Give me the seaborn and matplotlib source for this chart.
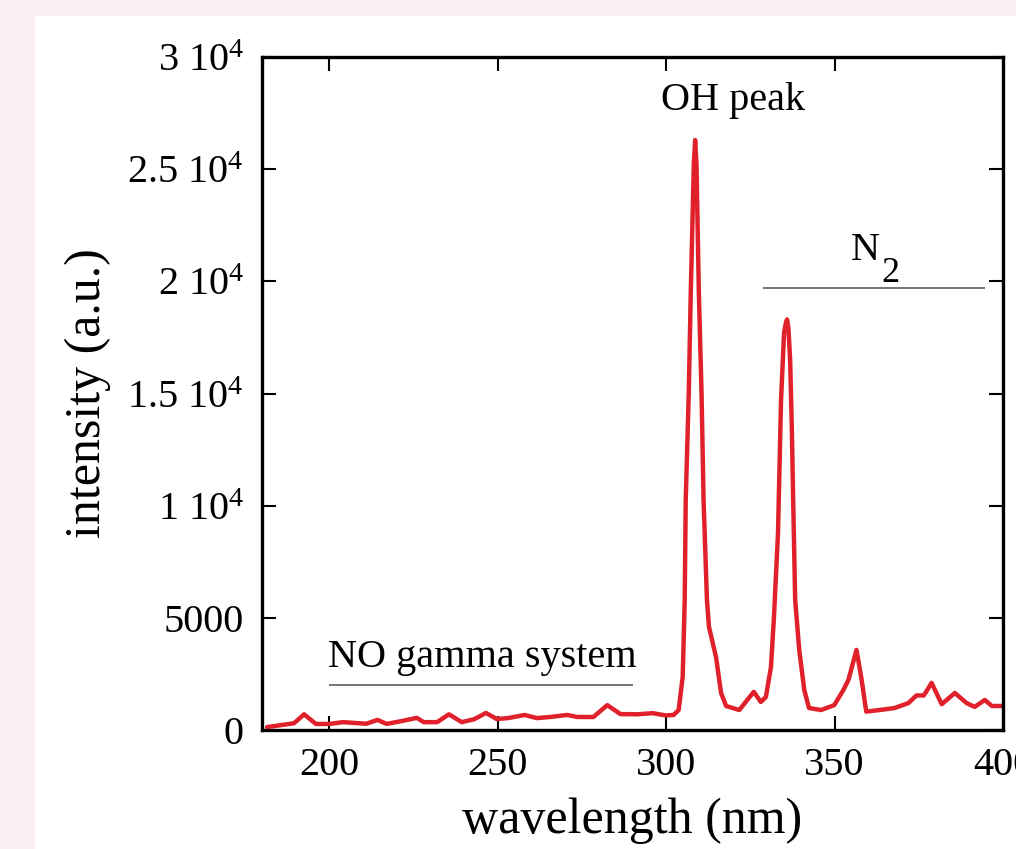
import matplotlib
matplotlib.use("Agg")
import matplotlib.pyplot as plt
from matplotlib.patches import Rectangle
import seaborn as sns
import pandas as pd

# ---- data ----
wavelength = [181.5, 189.5, 192.5, 196.0, 200.0, 204.0, 211.0, 214.3, 217.0, 221.5,
              226.0, 228.0, 232.0, 235.5, 239.3, 243.0, 246.5, 249.7, 253.0, 258.0,
              261.6, 265.5, 270.6, 273.6, 278.4, 282.5, 286.4, 291.5, 296.0, 299.8,
              302.2, 303.7, 304.9, 305.5, 305.8, 306.7, 307.3, 308.2, 308.6, 309.0,
              309.7, 310.5, 311.1, 312.1, 312.7, 314.8, 316.3, 317.8, 321.7, 326.0,
              328.1, 329.6, 331.1, 332.0, 333.2, 334.1, 335.0, 335.6, 335.9, 336.3,
              336.8, 337.3, 337.7, 338.3, 339.5, 341.0, 342.4, 346.0, 349.9, 352.6,
              354.1, 356.5, 357.9, 359.4, 363.9, 367.8, 371.9, 374.3, 376.5, 378.8,
              381.8, 385.7, 389.2, 391.6, 394.6, 396.7, 399.7]
intensity = [130, 300, 700, 270, 270, 350, 280, 450, 270, 400,
             540, 350, 350, 700, 350, 480, 760, 490, 530, 670,
             530, 580, 670, 580, 580, 1110, 710, 700, 750, 650,
             670, 890, 2360, 5800, 10250, 15000, 19500, 25200, 26300, 25200,
             19500, 15000, 10250, 5800, 4600, 3250, 1650, 1070, 890, 1700,
             1250, 1470, 2800, 5040, 8780, 14700, 17700, 18200, 18300, 17900,
             16500, 13500, 10250, 5800, 3570, 1780, 980, 890, 1110, 1780,
             2230, 3570, 2360, 820, 900, 980, 1200, 1540, 1540, 2100,
             1150, 1650, 1200, 1030, 1340, 1070, 1070]

x_ticks = [200, 250, 300, 350, 400]
x_tick_labels = ["200", "250", "300", "350", "400"]
y_ticks = [0, 5000, 10000, 15000, 20000, 25000, 30000]
y_tick_labels = ["0", "5000", r"1 10$^{4}$", r"1.5 10$^{4}$", r"2 10$^{4}$",
                 r"2.5 10$^{4}$", r"3 10$^{4}$"]

df = pd.DataFrame({"wavelength": wavelength, "intensity": intensity})

# ---- style ----
sns.set_style("ticks")
plt.rcParams["font.family"] = ["Liberation Serif", "DejaVu Serif"]
plt.rcParams["mathtext.fontset"] = "custom"
plt.rcParams["mathtext.rm"] = "Liberation Serif"
plt.rcParams["mathtext.it"] = "Liberation Serif:italic"
plt.rcParams["mathtext.bf"] = "Liberation Serif:bold"
plt.rcParams["text.color"] = "black"
plt.rcParams["axes.labelcolor"] = "black"
plt.rcParams["xtick.color"] = "black"
plt.rcParams["ytick.color"] = "black"

W, H = 1016, 849
fig = plt.figure(figsize=(W / 100, H / 100), dpi=100, facecolor="#fcf0f4")
fig.add_artist(Rectangle((35 / W, 0), 1, 1 - 16 / H, transform=fig.transFigure,
                         facecolor="white", edgecolor="none", zorder=-5))

ax = fig.add_axes([262 / W, 1 - 730 / H, (1003 - 262) / W, (730 - 57) / H])
ax.set_facecolor("white")

sns.lineplot(data=df, x="wavelength", y="intensity", color="#e0212b",
             sort=False, ax=ax, legend=False, linewidth=3.2)
for ln in ax.lines:
    ln.set_linewidth(3.2)
    ln.set_solid_joinstyle("round")
    ln.set_solid_capstyle("round")

ax.set_xlim(180, 400)
ax.set_ylim(0, 30000)
ax.set_xticks(x_ticks)
ax.set_xticklabels(x_tick_labels)
ax.set_yticks(y_ticks)
ax.set_yticklabels(y_tick_labels)

for s in ax.spines.values():
    s.set_visible(True)
    s.set_linewidth(2.4)
    s.set_color("black")

ax.tick_params(axis="both", which="major", direction="in", length=10, width=1.5,
               top=True, right=True, labelsize=29, colors="black",
               labelcolor="black")
ax.tick_params(axis="x", pad=12)
ax.tick_params(axis="y", pad=13)

ax.set_xlabel("wavelength (nm)", fontsize=36, labelpad=10, color="black")
ax.set_ylabel("intensity (a.u.)", fontsize=36, labelpad=12, color="black")

# ---- annotations ----
ax.text(319.8, 27640, "OH peak", fontsize=29, ha="center", va="baseline", color="black")
ax.text(199.5, 2810, "NO gamma system", fontsize=29, ha="left", va="baseline", color="black")
ax.hlines(2000, 200, 290, color="#6a6a6a", linewidth=1.3)
ax.text(354.8, 20950, "N", fontsize=29, ha="left", va="baseline", color="black")
ax.text(364.0, 19950, "2", fontsize=26, ha="left", va="baseline", color="black")
ax.hlines(19700, 328.7, 394.6, color="#6a6a6a", linewidth=1.3)

fig.savefig("out.png", dpi=100, facecolor=fig.get_facecolor())
